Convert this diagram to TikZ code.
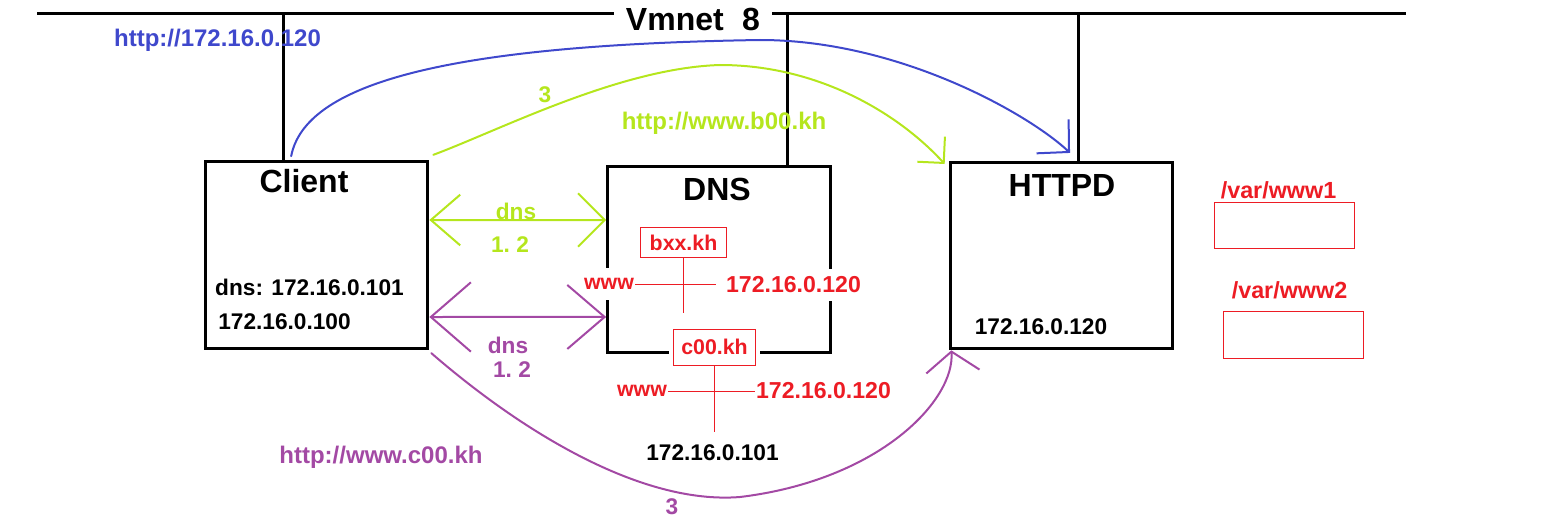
\documentclass[tikz,border=0pt]{standalone}
\usepackage{fontspec}
\setmainfont{Liberation Sans}
\usepackage{tikz}
\usetikzlibrary{arrows.meta}

\definecolor{netblue}{RGB}{63,72,204}
\definecolor{netlime}{RGB}{181,230,29}
\definecolor{netpurple}{RGB}{163,73,164}
\definecolor{netred}{RGB}{237,28,36}

\tikzset{
  hostbox/.style={draw, line width=2.25pt, minimum width=167pt, minimum height=140pt},
  hosttitle/.style={font=\fontsize{24}{27}\selectfont\bfseries, inner sep=0.75pt},
  txt/.style={font=\fontsize{17}{19}\selectfont\bfseries, inner sep=0.75pt},
  urltxt/.style={font=\fontsize{18}{20}\selectfont\bfseries, inner sep=0.75pt},
  redtxt/.style={txt, font=\fontsize{16}{18}\selectfont\bfseries, text=netred, fill=white, minimum height=24pt},
  redip/.style={redtxt, font=\fontsize{17.3}{19}\selectfont\bfseries},
  zonebox/.style={draw=netred, line width=0.75pt, fill=white, text=netred, inner sep=0pt,
    font=\fontsize{16}{18}\selectfont\bfseries},
  dirbox/.style={draw=netred, line width=0.75pt, minimum width=105pt, minimum height=35pt},
  wire/.style={line width=2.25pt},
  redline/.style={netred, line width=0.75pt},
  pen/.style={line width=1.5pt, line cap=round}
}

\begin{document}
\begin{tikzpicture}[x=0.75pt,y=0.75pt,yscale=-1,xscale=1]
\useasboundingbox (0,0) rectangle (1560,528);

%Shape: Bus [Vmnet 8]
\draw (693,19) node [hosttitle, inner xsep=9pt] (vmnet) {Vmnet\hspace{0.3em} 8};
\coordinate (busL) at (37,14);
\coordinate (busR) at (1406,14);
\draw [wire] (busL) -- (busL -| vmnet.west) (busR -| vmnet.east) -- (busR);

%Shape: Rectangle [hosts]
\node [hostbox] (client) at (316.5,255) {};
\node [hostbox] (dns) at (719,259.5) {};
\node [hostbox] (httpd) at (1061.5,255.5) {};

%Shape: drops to the bus
\draw [wire] ([xshift=-25pt]client.north) -- ([xshift=-25pt]client.north |- busL);
\draw [wire] ([xshift=51pt]dns.north) -- ([xshift=51pt]dns.north |- busL);
\draw [wire] ([xshift=12.4pt]httpd.north) -- ([xshift=12.4pt]httpd.north |- busL);

% Text Node
\node [hosttitle] (clientT) at (304,181) {Client};
\node [hosttitle] (dnsT) at (717,189) {DNS};
\node [hosttitle] (httpdT) at (1062,185) {HTTPD};
\node [txt] (clientDns) at (309.5,287.5) {dns: 172.16.0.101};
\node [txt] (clientIp) at (284.5,321.5) {172.16.0.100};
\node [txt] (httpdIp) at (1041,327) {172.16.0.120};

%Shape: zone bxx.kh
\node [zonebox, minimum width=65pt, minimum height=23pt] (zoneB) at (683.5,242.5) {bxx.kh};
\node [redtxt] (wwwB) at (609,284) {www};
\node [redip] (ipB) at (793.5,284.5) {172.16.0.120};
\draw [redline] (zoneB.south) -- ++(0,55);
\draw [redline] (wwwB.east) -- ++(81,0);

%Shape: zone c00.kh
\node [zonebox, minimum width=62pt, minimum height=27pt,
  preaction={draw=white, line width=6pt}] (zoneC) at (714.5,347) {c00.kh};
\node [redtxt] (wwwC) at (642,391) {www};
\node [redip] (ipC) at (823.5,391) {172.16.0.120};
\draw [redline] (zoneC.south) -- ++(0,66);
\draw [redline] (wwwC.east) -- (ipC.west);
\node [txt] (dnsIp) at (712.5,453) {172.16.0.101};

%Shape: document roots
\node [txt, font=\fontsize{17.5}{19}\selectfont\bfseries, text=netred] (www1T) at (1278.5,190) {/var/www1};
\node [dirbox] (www1) at (1284,225.5) {};
\node [txt, font=\fontsize{17.5}{19}\selectfont\bfseries, text=netred] (www2T) at (1289.5,290) {/var/www2};
\node [dirbox] (www2) at (1293.5,335) {};

% Text Node
\node [urltxt, text=netblue] (blueLbl) at (217.5,40) {http://172.16.0.120};
\node [txt, text=netlime] (limeNum) at (545,95) {3};
\node [urltxt, text=netlime] (limeLbl) at (724,123) {http://www.b00.kh};
\node [txt, text=netlime] (limeDns) at (516,211) {dns};
\node [txt, text=netlime] (limeStep) at (510,245) {1.\ 2};
\node [txt, text=netpurple] (purpleDns) at (508,345) {dns};
\node [txt, text=netpurple] (purpleStep) at (512,370) {1.\ 2};
\node [urltxt, text=netpurple] (purpleLbl) at (381,457) {http://www.c00.kh};
\node [txt, text=netpurple] (purpleNum) at (672,507) {3};

%Shape: dns queries
\draw [pen, netlime, {Straight Barb[length=22pt,width=38pt]}-{Straight Barb[length=20pt,width=40pt]}]
  ([yshift=-26.25pt]client.east) -- ([yshift=-29.6pt]dns.west);
\draw [pen, netpurple, {Straight Barb[length=30pt,width=52pt]}-{Straight Barb[length=28pt,width=48pt]}]
  ([yshift=46.5pt]client.east) -- ([yshift=43.1pt]dns.west);

%Shape: http requests
\draw [pen, netblue, -{Straight Barb[length=17pt,width=35pt]}]
  ([xshift=-19pt,yshift=-3pt]client.north) .. controls (305,85) and (440,45) .. (760,40)
  .. controls (900,40) and (1030,115) .. ([xshift=6.4pt,yshift=-5.8pt]httpd.north);
\draw [pen, netlime, -{Straight Barb[length=14pt,width=28pt]}]
  ([xshift=3pt,yshift=-4pt]client.north east) .. controls (500,130) and (620,68) .. (720,65)
  .. controls (820,65) and (900,115) .. ([xshift=-3pt,yshift=2.5pt]httpd.north west);
\draw [pen, netpurple, -{Straight Barb[length=15pt,width=40pt]}]
  ([xshift=1.5pt,yshift=2.5pt]client.south east) .. controls (520,430) and (640,505) .. (740,497)
  .. controls (880,480) and (955,400) .. ([xshift=2pt]httpd.south west);

\end{tikzpicture}
\end{document}
